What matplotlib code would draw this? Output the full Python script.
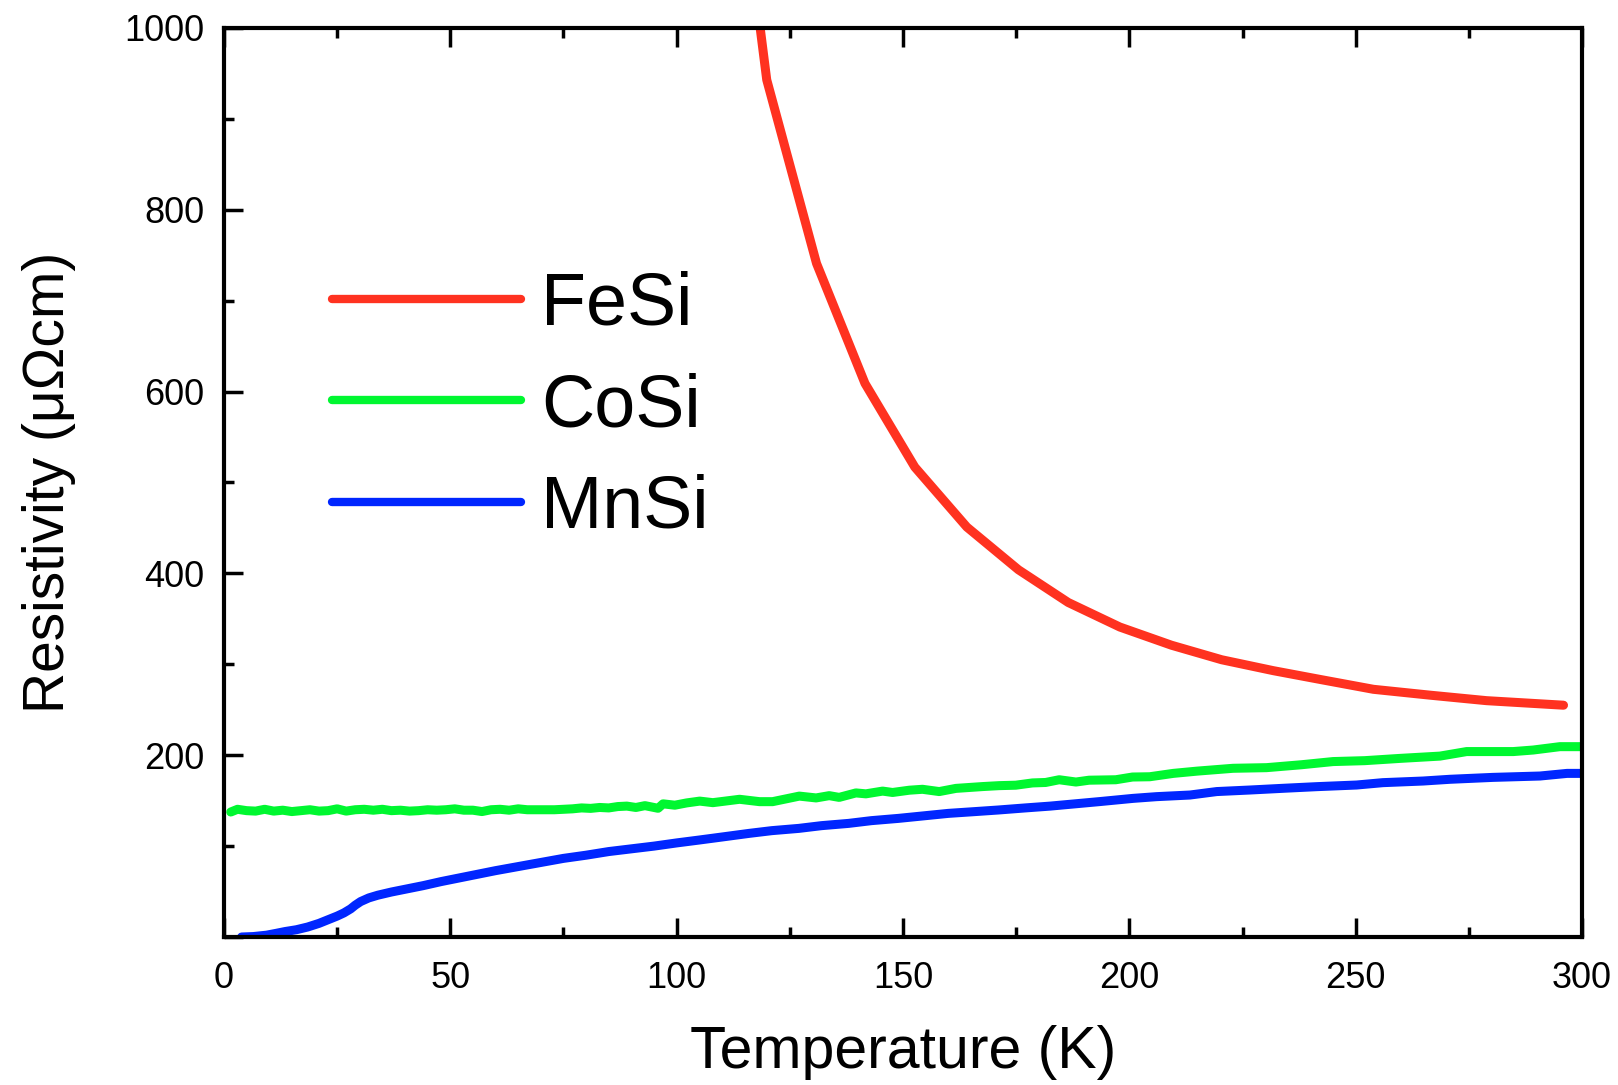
import matplotlib
matplotlib.use("Agg")
import matplotlib.pyplot as plt
from matplotlib.ticker import MultipleLocator

plt.rcParams['font.family'] = ['Liberation Sans', 'DejaVu Sans']

# ---------------- data ----------------
fesi_T = [118.4, 119.9, 130.9, 141.6, 152.6, 164.1, 175.5, 186.5, 197.9, 209.3,
          220.4, 231.8, 242.5, 253.9, 266.5, 278.9, 295.9]
fesi_R = [1002, 943, 741, 609, 517, 451, 404, 368, 341, 321,
          305, 293, 283, 272.5, 266, 260, 255]

cosi_T = [1.5, 3, 5, 7, 9, 11, 13, 15, 17, 19, 21, 23, 25, 27, 29, 31, 33, 35, 37, 39,
          41, 43, 45, 47, 49, 51, 53, 55, 57, 59, 61, 63, 65, 67, 69, 71, 73, 75, 77, 79,
          81, 83, 85, 87, 89, 91, 93, 95.9, 97, 99.6, 102.2, 105.1, 108, 113.9, 118.3,
          121.2, 127.1, 130.8, 133.7, 135.9, 139.6, 141.8, 145.5, 147.7, 151.4, 154.3,
          158, 161.7, 167.6, 171.2, 174.9, 178.6, 181.5, 184.5, 188.2, 191.1, 197,
          200.7, 204.5, 209.7, 215, 222.9, 230.3, 238, 245, 252, 259.8, 268.6, 274.5,
          284.8, 289.2, 295.1, 300]
cosi_R = [137.5, 140.5, 139, 138.5, 140.5, 138.5, 139.5, 138, 139, 140, 138.5, 139, 141,
          138.5, 140, 140.5, 139.5, 140.5, 139, 139.5, 138.5, 139, 140, 139.5, 140, 141,
          139.5, 139.5, 138, 140, 140.5, 139.5, 141, 140, 140, 140, 140, 140.5, 141, 142,
          141.5, 142.5, 142, 143.5, 144, 142.5, 144.5, 141.6, 146.5, 145, 147.5, 149.5,
          147.8, 151.5, 148.9, 148.9, 155, 153, 155.5, 153.6, 158.5, 157.5, 160.5, 159,
          161.5, 162.5, 160, 163.5, 165.5, 166.5, 167, 169.5, 170, 173, 170.5, 172.5,
          173, 176, 176.3, 180, 182.5, 185.6, 186.3, 189.5, 193, 194, 196.5, 199, 204,
          204, 205.7, 209.4, 209.4]

mnsi_T = [3.9, 6.5, 9.4, 11.5, 13.5, 16, 18.5, 21, 23, 25, 26.5, 28, 29, 30.2, 32, 34,
          37, 40, 44, 48, 52, 56, 60, 65, 70, 75, 80, 85, 90, 95, 100, 105, 110, 116,
          121, 127, 132, 138, 143, 149, 155, 160, 166, 171, 177, 182.5, 188, 193.5,
          200.8, 206, 213.4, 219.3, 226.6, 234, 241.4, 250.2, 256, 264.9, 270.8, 280.3,
          290.7, 296.7, 300]
mnsi_R = [0, 0.5, 2, 4, 6, 8, 11, 15, 19, 23, 26.5, 31, 35, 39, 43, 46, 49.5, 52.5,
          56.5, 61, 65, 69, 73, 77.5, 82, 86.5, 90, 94, 97, 100, 103.5, 106.7, 110, 114,
          117, 119.5, 122.5, 125, 128, 130.5, 133.5, 136, 138, 139.7, 142, 144, 146.5,
          149, 152.5, 154.4, 156.2, 160, 161.7, 163.6, 165.4, 167.2, 169.8, 171.6, 173.5,
          175.6, 177.1, 180, 180]

labels = ['FeSi', 'CoSi', 'MnSi']
colors = ['#ff3220', '#00f730', '#0026ff']

x_major = [0, 50, 100, 150, 200, 250, 300]
y_major = [0, 200, 400, 600, 800, 1000]
y_labels = ['', '200', '400', '600', '800', '1000']

# ---------------- figure ----------------
fig = plt.figure(figsize=(16.18, 10.85), dpi=100)
ax = fig.add_axes([0.1384, 0.1364, 0.8394, 0.8378])

for T, R, lab, c in zip([fesi_T, cosi_T, mnsi_T], [fesi_R, cosi_R, mnsi_R], labels, colors):
    ax.plot(T, R, color=c, lw=6.5, label=lab, solid_capstyle='round',
            solid_joinstyle='round')

ax.set_xlim(0, 300)
ax.set_ylim(0, 1000)
ax.set_xticks(x_major)
ax.set_yticks(y_major)
ax.set_yticklabels(y_labels)
ax.xaxis.set_minor_locator(MultipleLocator(25))
ax.yaxis.set_minor_locator(MultipleLocator(100))

for s in ax.spines.values():
    s.set_linewidth(3)
ax.tick_params(which='both', direction='in', top=True, right=False, width=2.5)
ax.tick_params(which='major', length=14, labelsize=26)
ax.tick_params(axis='y', which='major', pad=14)
ax.tick_params(axis='x', which='major', pad=17)
ax.tick_params(which='minor', length=7)

ax.set_xlabel('Temperature (K)', fontsize=42.5, labelpad=21)
ax.set_ylabel('Resistivity (μΩcm)', fontsize=41, labelpad=35)

leg = ax.legend(loc='upper left', bbox_to_anchor=(0.0797, 0.733), frameon=False,
                fontsize=53, handlelength=2.57, handletextpad=0.27, labelspacing=0.44,
                borderpad=0, borderaxespad=0)
for h in leg.get_lines():
    h.set_linewidth(6)
    h.set_solid_capstyle('round')

fig.savefig('out.png', dpi=100)
